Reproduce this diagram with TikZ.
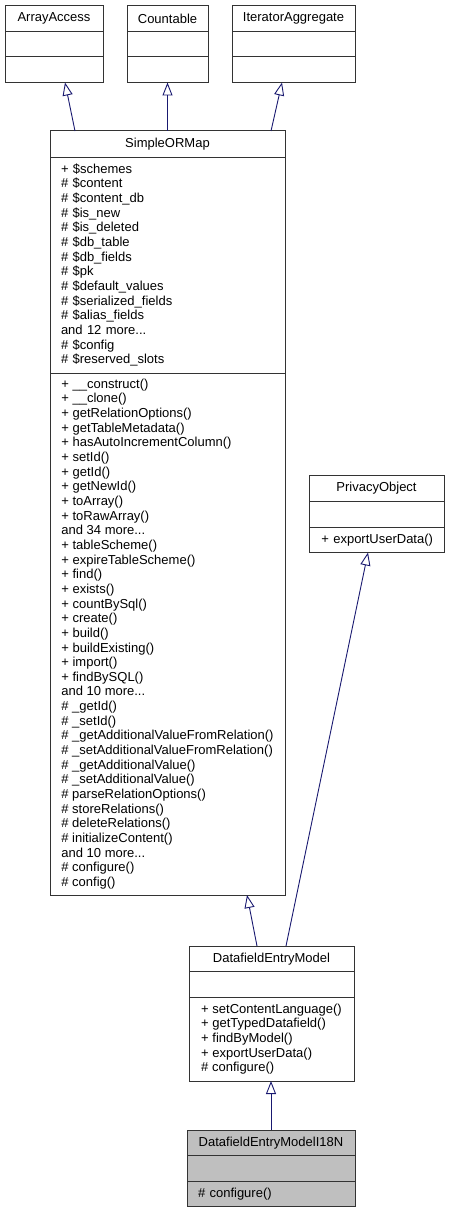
\documentclass[tikz,border=0pt]{standalone}
\usepackage{fontspec}
\setmainfont{Liberation Sans}
\usetikzlibrary{positioning,arrows.meta}
\definecolor{edgeblue}{HTML}{191970}
\definecolor{selgray}{HTML}{BFBFBF}

\begin{document}
\begin{tikzpicture}[
        x=1pt, y=-1pt,
        font=\fontsize{13}{14.65}\selectfont,
        every node/.style={draw=black!80, line width=1pt, inner sep=0pt, outer sep=0pt},
        clsname/.style={minimum width=#1, minimum height=25.5pt, anchor=north west},
        clsempty/.style={minimum width=#1, minimum height=25.5pt},
        clslist/.style={minimum width=#1, align=left},
        inherit/.style={draw=edgeblue, line width=0.9pt, -{Triangle[open, length=13pt, width=10pt]}}
    ]
    \useasboundingbox (0,0) rectangle (449,1212);

    \node[clsname=98pt] (aa) at (5,6) {ArrayAccess};
    \node[clsempty=98pt, below=0pt of aa] (aa-attr) {};
    \node[clsempty=98pt, below=0pt of aa-attr] (aa-ops) {};

    \node[clsname=81pt] (cnt) at (127,6) {Countable};
    \node[clsempty=81pt, below=0pt of cnt] (cnt-attr) {};
    \node[clsempty=81pt, below=0pt of cnt-attr] (cnt-ops) {};

    \node[clsname=123pt] (iter) at (232,6) {IteratorAggregate};
    \node[clsempty=123pt, below=0pt of iter] (iter-attr) {};
    \node[clsempty=123pt, below=0pt of iter-attr] (iter-ops) {};

    \node[clsname=235pt, minimum height=26pt] (smap) at (50,131) {SimpleORMap};
    \node[clslist=235pt, text width=213pt, inner xsep=11pt, minimum height=216pt, below=0pt of smap] (smap-attr) {%
        + \$schemes\\ \# \$content\\ \# \$content\_db\\ \# \$is\_new\\
        \# \$is\_deleted\\ \# \$db\_table\\ \# \$db\_fields\\ \# \$pk\\
        \# \$default\_values\\ \# \$serialized\_fields\\ \# \$alias\_fields\\
        and 12 more...\\ \# \$config\\ \# \$reserved\_slots};
    \node[clslist=235pt, minimum height=522pt, below=0pt of smap-attr] (smap-ops) {%
        + \_\_construct()\\ + \_\_clone()\\ + getRelationOptions()\\
        + getTableMetadata()\\ + hasAutoIncrementColumn()\\ + setId()\\
        + getId()\\ + getNewId()\\ + toArray()\\ + toRawArray()\\
        and 34 more...\\ + tableScheme()\\ + expireTableScheme()\\ + find()\\
        + exists()\\ + countBySql()\\ + create()\\ + build()\\
        + buildExisting()\\ + import()\\ + findBySQL()\\ and 10 more...\\
        \# \_getId()\\ \# \_setId()\\ \# \_getAdditionalValueFromRelation()\\
        \# \_setAdditionalValueFromRelation()\\ \# \_getAdditionalValue()\\
        \# \_setAdditionalValue()\\ \# parseRelationOptions()\\
        \# storeRelations()\\ \# deleteRelations()\\ \# initializeContent()\\
        and 10 more...\\ \# configure()\\ \# config()};

    \node[clsname=135pt, minimum height=26.5pt] (priv) at (309,475) {PrivacyObject};
    \node[clsempty=135pt, below=0pt of priv] (priv-attr) {};
    \node[clsempty=135pt, align=right, text width=113pt, inner xsep=11pt, below=0pt of priv-attr] (priv-ops) {+ exportUserData()};

    \node[clsname=165pt] (dem) at (189,946) {DatafieldEntryModel};
    \node[clsempty=165pt, below=0pt of dem] (dem-attr) {};
    \node[clslist=165pt, minimum height=84pt, below=0pt of dem-attr] (dem-ops) {%
        + setContentLanguage()\\ + getTypedDatafield()\\ + findByModel()\\
        + exportUserData()\\ \# configure()};

    \node[clsname=168pt, fill=selgray] (i18n) at (187,1130) {DatafieldEntryModelI18N};
    \node[clsempty=168pt, fill=selgray, below=0pt of i18n] (i18n-attr) {};
    \node[clsempty=168pt, fill=selgray, align=left, text width=146pt, inner xsep=11pt, below=0pt of i18n-attr] (i18n-ops) {\# configure()};

    \draw[inherit] ([xshift=25pt]smap.north west) -- ([xshift=11pt]aa-ops.south);
    \draw[inherit] (smap.north) -- (cnt-ops.south);
    \draw[inherit] ([xshift=-14pt]smap.north east) -- ([xshift=-11.5pt]iter-ops.south);
    \draw[inherit] ([xshift=-14.5pt]dem.north) -- ([xshift=79.5pt]smap-ops.south);
    \draw[inherit] ([xshift=14.5pt]dem.north) -- ([xshift=-8.5pt]priv-ops.south);
    \draw[inherit] (i18n.north) -- (i18n.north |- dem-ops.south);
\end{tikzpicture}
\end{document}
